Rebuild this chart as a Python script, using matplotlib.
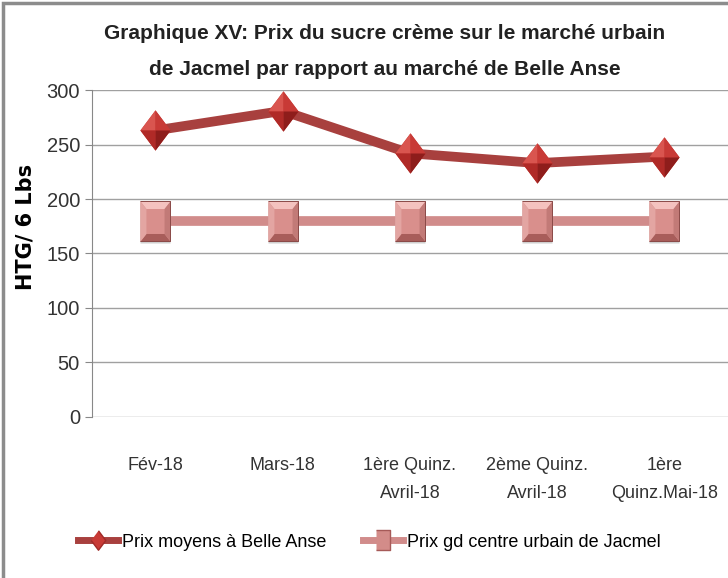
import matplotlib.pyplot as plt
from matplotlib.lines import Line2D
from matplotlib.patches import Rectangle

# Données
periodes = ["Fév-18", "Mars-18", "1ère Quinz.\nAvril-18", "2ème Quinz.\nAvril-18", "1ère\nQuinz.Mai-18"]
prix_belle_anse = [263, 281, 242, 233, 239]
prix_jacmel = [180, 180, 180, 180, 180]
y_ticks = [0, 50, 100, 150, 200, 250, 300]

plt.rcParams['font.family'] = ['Liberation Sans', 'DejaVu Sans']

# facettes des marqueurs (effet relief)
diam = [(0, 1), (0.75, 0), (0, -1), (-0.75, 0)]
diam_facettes = [
    ([(0, 0), (-0.75, 0), (0, 1)], '#d9554f'),
    ([(0, 0), (0, 1), (0.75, 0)], '#c83a36'),
    ([(0, 0), (-0.75, 0), (0, -1)], '#b02a27'),
    ([(0, 0), (0, -1), (0.75, 0)], '#8e1d1b'),
]
carre = [(-0.75, -1), (0.75, -1), (0.75, 1), (-0.75, 1)]
carre_facettes = [
    ([(-0.75, 1), (0.75, 1), (0.45, 0.62), (-0.45, 0.62)], '#f4c2bf'),
    ([(-0.75, -1), (0.75, -1), (0.45, -0.62), (-0.45, -0.62)], '#a85d5a'),
    ([(-0.75, 1), (-0.45, 0.62), (-0.45, -0.62), (-0.75, -1)], '#e3a5a2'),
    ([(0.75, 1), (0.45, 0.62), (0.45, -0.62), (0.75, -1)], '#c27a77'),
]

fig = plt.figure(figsize=(7.28, 5.78), dpi=100)
ax = fig.add_axes([0.126, 0.279, 0.874, 0.565])

x = list(range(len(periodes)))

def trace_marqueurs(ax, xs, ys, forme, base, facettes, ms, z):
    ax.plot(xs, ys, ls='none', marker=forme, ms=ms, mfc=base, mec='none', zorder=z)
    for verts, c in facettes:
        ax.plot(xs, ys, ls='none', marker=verts, ms=ms, mfc=c, mec='none', zorder=z + 0.1)

ax.plot(x, prix_jacmel, color='#d18c8b', lw=7, zorder=3, solid_capstyle='butt')
ax.plot(x, [v - 2 for v in prix_jacmel], ls='none', marker=carre, ms=29, mfc='#cfcfcf',
        mec='none', zorder=3.5)
trace_marqueurs(ax, x, prix_jacmel, carre, '#d98f8c', carre_facettes, 29, 4)
ax.plot(x, prix_jacmel, ls='none', marker=carre, ms=29, mfc='none',
        mec='#8a4a48', mew=0.7, zorder=4.5)

ax.plot(x, prix_belle_anse, color='#a8403e', lw=7, zorder=5, solid_capstyle='butt')
trace_marqueurs(ax, x, prix_belle_anse, diam, '#c83a36', diam_facettes, 29, 6)

ax.set_xlim(-0.5, len(periodes) - 0.5)
ax.set_ylim(0, 300)
ax.set_yticks(y_ticks)
ax.set_xticks(x)
ax.set_xticklabels(periodes, fontsize=13, color='#333333', linespacing=1.85)
ax.tick_params(axis='y', labelsize=14.5, colors='#333333', length=5, color='#888888')
ax.tick_params(axis='x', length=0, pad=29)
ax.grid(axis='y', color='#a0a0a0', lw=1)
ax.set_axisbelow(True)
for s in ['top', 'right', 'bottom']:
    ax.spines[s].set_visible(False)
ax.spines['left'].set_color('#888888')
ax.set_ylabel("HTG/ 6 Lbs", fontsize=15, fontweight='bold', family='DejaVu Sans')
ax.yaxis.set_label_coords(-0.088, 0.58)

ax.set_title("Graphique XV: Prix du sucre crème sur le marché urbain\nde Jacmel par rapport au marché de Belle Anse",
             fontsize=15, fontweight='bold', linespacing=2.15, pad=11, color='#222222', x=0.46)

poignees = [
    Line2D([], [], color='#a8403e', lw=5, marker=diam, ms=14, mfc='#c83a36', mec='#a02a28'),
    Line2D([], [], color='#d18c8b', lw=5, marker=carre, ms=14, mfc='#d38c89', mec='#a65a58'),
]
fig.legend(poignees, ["Prix moyens à Belle Anse", "Prix gd centre urbain de Jacmel"],
           loc='center left', bbox_to_anchor=(0.085, 0.062), ncol=2, frameon=False, fontsize=13,
           handlelength=2.2, handletextpad=0.25, columnspacing=2.0)

fig.patches.append(Rectangle((0.004, -0.1), 1.2, 1.095, transform=fig.transFigure,
                             fill=False, ec='#8c8c8c', lw=2.5))

fig.savefig('out.png', dpi=100)
